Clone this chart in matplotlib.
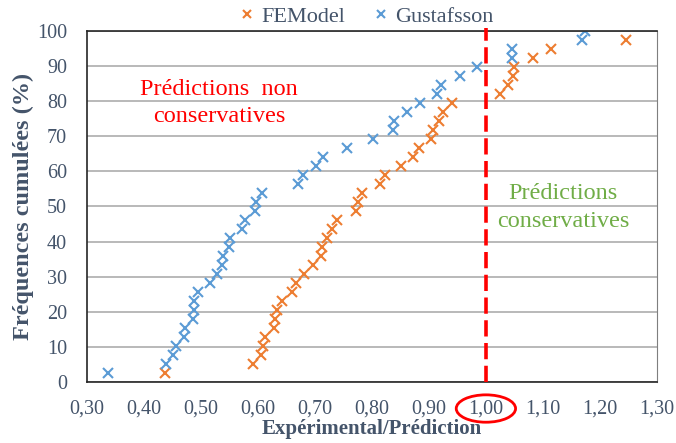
import matplotlib
matplotlib.use("Agg")
import matplotlib.pyplot as plt
from matplotlib.patches import Ellipse
from matplotlib.ticker import FuncFormatter

plt.rcParams["font.family"] = ["Liberation Serif", "DejaVu Serif"]

# cumulative frequencies (%) for the ranked ratios
freq_gustafsson = [2.56, 5.13, 7.69, 10.26, 12.82, 15.38, 17.95, 20.51, 23.08, 25.64,
                   28.21, 30.77, 33.33, 35.90, 38.46, 41.03, 43.59, 46.15, 48.72, 51.28,
                   53.85, 56.41, 58.97, 61.54, 64.10, 66.67, 69.23, 71.79, 74.36, 76.92,
                   79.49, 82.05, 84.62, 87.18, 89.74, 92.31, 94.87, 97.44, 100.0]
ratio_gustafsson = [0.338, 0.440, 0.451, 0.457, 0.470, 0.473, 0.486, 0.488, 0.489, 0.496,
                    0.516, 0.528, 0.538, 0.540, 0.550, 0.552, 0.572, 0.578, 0.596, 0.597,
                    0.607, 0.671, 0.680, 0.702, 0.714, 0.756, 0.802, 0.838, 0.839, 0.861,
                    0.885, 0.914, 0.921, 0.955, 0.984, 1.045, 1.046, 1.168, 1.174]

freq_femodel = freq_gustafsson[:38]
ratio_femodel = [0.437, 0.592, 0.605, 0.610, 0.612, 0.629, 0.631, 0.633, 0.643, 0.660,
                 0.668, 0.681, 0.697, 0.711, 0.713, 0.721, 0.731, 0.739, 0.772, 0.776,
                 0.783, 0.814, 0.823, 0.851, 0.872, 0.882, 0.903, 0.907, 0.918, 0.925,
                 0.940, 1.024, 1.038, 1.047, 1.050, 1.083, 1.114, 1.245]

x_ticks = [0.30, 0.40, 0.50, 0.60, 0.70, 0.80, 0.90, 1.00, 1.10, 1.20, 1.30]
y_ticks = [0, 10, 20, 30, 40, 50, 60, 70, 80, 90, 100]

BLUE = "#5B9BD5"
ORANGE = "#ED7D31"
SLATE = "#44546A"

fig = plt.figure(figsize=(6.76, 4.43), dpi=100)
ax = fig.add_axes([0.128, 0.138, 0.844, 0.792])

ax.plot(ratio_femodel, freq_femodel, ls="none", marker="x", ms=7, mew=1.5,
        color=ORANGE, label="FEModel")
ax.plot(ratio_gustafsson, freq_gustafsson, ls="none", marker="x", ms=7, mew=1.5,
        color=BLUE, label="Gustafsson")

ax.set_xlim(0.30, 1.30)
ax.set_ylim(0, 100)
ax.set_xticks(x_ticks)
ax.set_yticks(y_ticks)
ax.xaxis.set_major_formatter(FuncFormatter(lambda v, p: f"{v:.2f}".replace(".", ",")))
ax.tick_params(length=0, labelsize=14.5, labelcolor=SLATE)
ax.tick_params(axis="x", pad=13)
ax.tick_params(axis="y", pad=14)
ax.grid(axis="y", color="#A6A6A6", lw=1.1)
ax.set_axisbelow(True)
for side in ("left", "bottom", "top"):
    ax.spines[side].set_color("#262626")
    ax.spines[side].set_linewidth(1.2)
ax.spines["right"].set_color("#7F7F7F")

ax.set_xlabel("Expérimental/Prédiction", fontsize=15, fontweight="bold",
              color=SLATE, labelpad=0)
ax.set_ylabel("Fréquences cumulées (%)", fontsize=17.5, fontweight="bold",
              color=SLATE, labelpad=2)

# limit between conservative and non-conservative predictions
ax.plot([1.0, 1.0], [0, 100.8], color="red", lw=2.6, dashes=(4.5, 1.8),
        clip_on=False, zorder=4)
ax.add_patch(Ellipse((1.0, -7.6), 0.104, 7.8, fill=False, edgecolor="red",
                     lw=2, clip_on=False))

ax.text(0.532, 79.5, "Prédictions  non\nconservatives", color="red", fontsize=17.5,
        ha="center", va="center", linespacing=1.4)
ax.text(1.135, 49.7, "Prédictions\nconservatives", color="#70AD47", fontsize=17.5,
        ha="center", va="center", linespacing=1.4)

fig.legend(loc="center", bbox_to_anchor=(0.543, 0.962), ncol=2, frameon=False,
           fontsize=16, labelcolor=SLATE, handlelength=0.6, handletextpad=0.35,
           columnspacing=1.3, borderaxespad=0, markerscale=0.85)

fig.savefig("out.png", dpi=100, facecolor="white")
